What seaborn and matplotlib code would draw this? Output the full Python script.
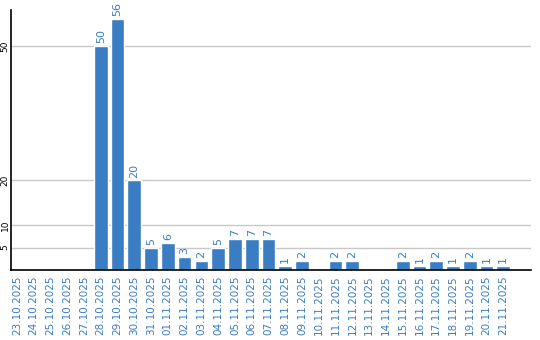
import matplotlib
matplotlib.use("Agg")
import matplotlib.pyplot as plt
import seaborn as sns
import pandas as pd

dates = ["23.10.2025", "24.10.2025", "25.10.2025", "26.10.2025", "27.10.2025",
         "28.10.2025", "29.10.2025", "30.10.2025", "31.10.2025", "01.11.2025",
         "02.11.2025", "03.11.2025", "04.11.2025", "05.11.2025", "06.11.2025",
         "07.11.2025", "08.11.2025", "09.11.2025", "10.11.2025", "11.11.2025",
         "12.11.2025", "13.11.2025", "14.11.2025", "15.11.2025", "16.11.2025",
         "17.11.2025", "18.11.2025", "19.11.2025", "20.11.2025", "21.11.2025"]
values = [0, 0, 0, 0, 0, 50, 56, 20, 5, 6, 3, 2, 5, 7, 7, 7, 1, 2, 0, 2, 2, 0, 0,
          2, 1, 2, 1, 2, 1, 1]
yticks = [5, 10, 20, 50]

BLUE = "#3a7dc2"

sns.set_style("white")
plt.rcParams['font.family'] = ['DejaVu Sans']

df = pd.DataFrame({"date": dates, "count": values})

fig = plt.figure(figsize=(5.4, 3.4), dpi=100)
ax = fig.add_axes([11/540, 70/340, 520/540, 260/340])

sns.barplot(data=df, x="date", y="count", color=BLUE, saturation=1,
            width=0.82, ax=ax)

ax.set_xlim(-0.35, 30.65)
ax.set_ylim(0, 58)
ax.set_yticks(yticks)
ax.set_yticklabels([str(t) for t in yticks], rotation=90, va="center",
                   fontsize=6.5, color="black")
ax.yaxis.grid(True, color="#c8c8c8", linewidth=1)
ax.set_axisbelow(True)
ax.tick_params(axis="both", length=0)
ax.tick_params(axis="y", pad=1)
ax.tick_params(axis="x", pad=4)
for lab in ax.get_xticklabels():
    lab.set_rotation(90)
    lab.set_color(BLUE)
    lab.set_fontsize(7.5)
ax.set_xlabel("")
ax.set_ylabel("")
for s in ["top", "right"]:
    ax.spines[s].set_visible(False)
for s in ["left", "bottom"]:
    ax.spines[s].set_color("black")
    ax.spines[s].set_linewidth(1.2)

for cont in ax.containers:
    ax.bar_label(cont, labels=[str(v) if v else "" for v in values],
                 rotation=90, padding=2, color=BLUE, fontsize=8)

fig.savefig("out.png", dpi=100)
